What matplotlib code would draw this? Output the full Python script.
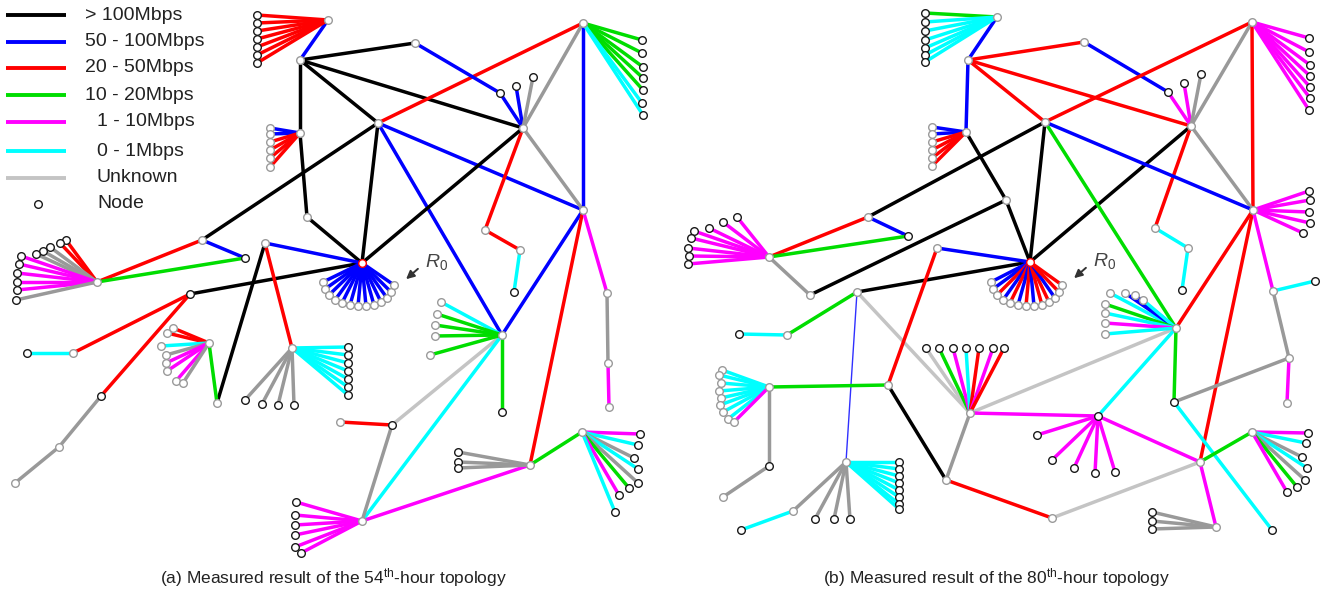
import matplotlib
matplotlib.use("Agg")
import matplotlib.pyplot as plt

plt.rcParams.update({
    "font.family": ["Liberation Sans", "DejaVu Sans"],
    "mathtext.fontset": "custom",
    "mathtext.rm": "Liberation Sans",
    "mathtext.it": "Liberation Sans:italic",
})

# bandwidth classes: key -> legend label
CLASS_KEYS = ["k", "b", "r", "g", "m", "c", "U"]
CLASS_LABELS = ["> 100Mbps", "50 - 100Mbps", "20 - 50Mbps", "10 - 20Mbps",
                "1 - 10Mbps", "0 - 1Mbps", "Unknown"]
CLASS_COLORS = {"k": "#000000", "b": "#0000ff", "r": "#ff0000", "g": "#00dd00",
                "m": "#ff00ff", "c": "#00ffff", "u": "#999999", "U": "#c4c4c4",
                "bt": "#3030ff"}
OUTLINES = {"k": "#1a1a1a", "g": "#9a9a9a", "r": "#ff0000"}

# ---- (a) 54th hour -------------------------------------------------------
NODES_A = {
    "A1": (328, 20, "g"), "A": (300, 60, "g"), "B": (300, 133, "g"),
    "C": (307, 217, "g"), "D": (378, 123, "g"), "P": (415, 43, "g"),
    "H": (523, 128, "g"), "E": (583, 23, "g"), "F": (583, 210, "g"),
    "h1": (500, 93, "k"), "h2": (516, 86, "k"), "h3": (533, 77, "k"),
    "f1": (485, 230, "g"), "f2": (520, 250, "g"), "f3": (514, 292, "k"),
    "R0": (362, 263, "r"), "I": (502, 335, "g"), "i1": (502, 412, "k"),
    "Q": (392, 425, "k"), "q1": (340, 422, "g"), "K": (362, 521, "g"),
    "J": (530, 465, "g"), "L": (582, 432, "g"), "m1": (607, 293, "g"),
    "m2": (608, 363, "g"), "m3": (609, 407, "g"), "G": (202, 240, "g"),
    "g2": (245, 258, "k"), "M": (97, 282, "g"), "N": (190, 294, "k"),
    "n1": (73, 353, "g"), "n0": (27, 353, "k"), "n2": (101, 396, "k"),
    "n3": (59, 447, "g"), "n4": (15, 483, "g"), "O": (265, 243, "g"),
    "o1": (217, 403, "g"), "o2": (209, 343, "g"), "o3": (292, 348, "g"),
}
EDGES_A = [
    ("A1", "A", "b"), ("A", "P", "k"), ("A", "D", "k"), ("A", "H", "k"),
    ("A", "B", "k"), ("B", "C", "k"), ("C", "R0", "k"), ("D", "E", "r"),
    ("D", "F", "b"), ("D", "I", "b"), ("D", "R0", "k"), ("D", "G", "k"),
    ("P", "h1", "b"), ("h1", "H", "b"), ("h2", "H", "b"), ("h3", "H", "u"),
    ("H", "E", "u"), ("H", "F", "u"), ("H", "f1", "r"), ("f1", "f2", "r"),
    ("f2", "f3", "c"), ("H", "R0", "k"), ("E", "F", "b"), ("F", "I", "b"),
    ("F", "J", "r"), ("F", "m1", "m"), ("m1", "m2", "u"), ("m2", "m3", "m"),
    ("I", "i1", "g"), ("I", "Q", "U"), ("I", "K", "c"), ("Q", "q1", "r"),
    ("Q", "K", "u"), ("K", "J", "m"), ("J", "L", "g"), ("G", "g2", "b"),
    ("G", "M", "r"), ("M", "g2", "g"), ("N", "R0", "k"), ("N", "n1", "r"),
    ("n1", "n0", "c"), ("N", "n2", "r"), ("n2", "n3", "u"), ("n3", "n4", "u"),
    ("O", "R0", "b"), ("O", "o1", "k"), ("O", "o3", "r"), ("o1", "o2", "g"),
]
FANS_A = [
    ("A1", "k", [(257, 15, "r"), (257, 23, "r"), (257, 31, "r"), (257, 39, "r"),
                 (257, 47, "r"), (257, 55, "r"), (257, 63, "r")]),
    ("B", "g", [(270, 128, "b"), (270, 134, "b"), (270, 142, "r"), (270, 150, "r"),
                (270, 158, "r"), (270, 167, "r")]),
    ("E", "k", [(642, 40, "g"), (642, 53, "g"), (643, 67, "g"), (643, 78, "g"),
                (643, 90, "g"), (642, 103, "c"), (643, 115, "c")]),
    ("R0", "g", [(323, 282, "b"), (325, 289, "b"), (329, 295, "b"), (335, 300, "b"),
                 (342, 303, "b"), (350, 305, "b"), (358, 306, "b"), (366, 306, "b"),
                 (374, 305, "b"), (381, 302, "b"), (387, 298, "b"), (391, 292, "b"),
                 (394, 285, "b")]),
    ("I", "g", [(441, 302, "c"), (437, 314, "g"), (435, 325, "g"), (435, 336, "g"),
                (430, 355, "g")]),
    ("K", "k", [(296, 502, "m"), (295, 515, "m"), (295, 525, "m"), (295, 535, "m"),
                (295, 547, "m"), (301, 553, "m")]),
    ("J", "k", [(458, 452, "u"), (458, 462, "u"), (458, 468, "u")]),
    ("L", "k", [(640, 434, "m"), (638, 445, "c"), (634, 458, "u"), (638, 469, "c"),
                (638, 483, "u"), (629, 488, "g"), (619, 495, "m"), (615, 512, "c")]),
    ("M", "k", [(66, 240, "r"), (60, 243, "r"), (50, 247, "u"), (43, 251, "u"),
                (36, 254, "u"), (21, 256, "m"), (19, 264, "m"), (17, 273, "m"),
                (17, 282, "m"), (17, 290, "m"), (16, 300, "u")]),
    ("o2", "g", [(173, 328, "r"), (167, 333, "r"), (161, 346, "c"), (166, 355, "u"),
                 (166, 363, "m"), (167, 371, "m"), (176, 381, "m"), (183, 383, "u")]),
    ("o3", "k", [(348, 347, "c"), (348, 355, "c"), (348, 363, "c"), (348, 371, "c"),
                 (348, 379, "c"), (348, 387, "c"), (348, 395, "c")]),
    ("o3", "k", [(245, 400, "u"), (262, 404, "u"), (278, 405, "u"), (294, 405, "u")]),
]

# ---- (b) 80th hour -------------------------------------------------------
NODES_B = {
    "P": (997, 17, "g"), "Q": (968, 60, "g"), "R": (966, 132, "g"),
    "S": (1006, 200, "g"), "R0": (1030, 262, "r"), "q1": (1084, 42, "g"),
    "U": (1191, 126, "g"), "u1": (1168, 92, "k"), "u2": (1184, 83, "k"),
    "u3": (1201, 74, "k"), "V": (1252, 22, "g"), "T": (1045, 122, "g"),
    "W": (1253, 210, "g"), "X": (1176, 328, "g"), "Y": (868, 217, "g"),
    "y1": (908, 236, "k"), "Z": (769, 257, "g"), "z1": (810, 295, "g"),
    "AA": (857, 292, "g"), "aa1": (787, 335, "g"), "aa2": (739, 334, "k"),
    "AB": (937, 248, "g"), "AC": (888, 385, "g"), "ac1": (769, 387, "g"),
    "ac2": (769, 466, "k"), "ac3": (723, 497, "g"), "BL": (846, 462, "g"),
    "bl1": (793, 511, "g"), "bl2": (741, 530, "k"), "AD": (970, 413, "g"),
    "ad1": (946, 480, "g"), "ad2": (1052, 518, "g"), "AE": (1098, 416, "k"),
    "AF": (1200, 462, "g"), "af1": (1216, 527, "g"), "af2": (1252, 432, "g"),
    "AG": (1174, 402, "k"), "ag1": (1289, 358, "g"), "ag2": (1273, 291, "g"),
    "ag3": (1315, 281, "k"), "ag4": (1287, 403, "g"), "ag5": (1272, 530, "k"),
    "u4": (1155, 228, "g"), "u5": (1188, 248, "g"), "u6": (1182, 290, "k"),
}
EDGES_B = [
    ("P", "Q", "b"), ("Q", "R", "b"), ("Q", "q1", "r"), ("Q", "T", "r"),
    ("Q", "U", "r"), ("q1", "u1", "b"), ("u1", "U", "m"), ("u2", "U", "m"),
    ("u3", "U", "u"), ("V", "T", "r"), ("V", "U", "u"), ("V", "W", "r"),
    ("U", "W", "u"), ("U", "R0", "k"), ("U", "u4", "r"), ("u4", "u5", "c"),
    ("u5", "u6", "c"), ("T", "W", "b"), ("T", "X", "g"), ("T", "R0", "k"),
    ("T", "Y", "k"), ("R", "S", "k"), ("S", "R0", "k"), ("z1", "S", "k"),
    ("Y", "y1", "b"), ("Y", "Z", "r"), ("Z", "y1", "g"), ("Z", "z1", "u"),
    ("AA", "R0", "k"), ("AA", "aa1", "g"), ("aa1", "aa2", "c"), ("AA", "AD", "U"),
    ("AA", "BL", "bt"), ("AB", "R0", "b"), ("AB", "AC", "r"), ("AC", "ac1", "g"),
    ("AC", "ad1", "k"), ("ac1", "ac2", "u"), ("ac2", "ac3", "u"), ("BL", "bl1", "u"),
    ("bl1", "bl2", "c"), ("ad1", "AD", "u"), ("ad1", "ad2", "r"), ("AD", "X", "U"),
    ("AD", "AE", "m"), ("AE", "X", "c"), ("AE", "AF", "m"), ("W", "X", "r"),
    ("W", "AF", "r"), ("W", "ag2", "m"), ("X", "AG", "g"), ("AG", "ag1", "u"),
    ("AG", "ag5", "c"), ("ag1", "ag2", "u"), ("ag1", "ag4", "m"), ("ag2", "ag3", "c"),
    ("AF", "af1", "m"), ("AF", "af2", "g"), ("AF", "ad2", "U"),
]
FANS_B = [
    ("P", "k", [(925, 13, "g"), (925, 22, "c"), (925, 31, "c"), (925, 40, "c"),
                (925, 48, "c"), (925, 55, "c"), (925, 62, "c")]),
    ("R", "g", [(932, 127, "b"), (932, 134, "b"), (932, 142, "r"), (932, 150, "r"),
                (932, 158, "r"), (932, 166, "r")]),
    ("V", "k", [(1309, 38, "m"), (1309, 52, "m"), (1310, 65, "m"), (1310, 76, "m"),
                (1310, 87, "m"), (1310, 98, "m"), (1309, 110, "m")]),
    ("W", "k", [(1309, 191, "m"), (1310, 200, "m"), (1309, 212, "m"), (1310, 223, "m"),
                (1303, 233, "m")]),
    ("Z", "k", [(737, 217, "m"), (723, 222, "m"), (709, 228, "m"), (694, 231, "m"),
                (691, 238, "m"), (688, 248, "m"), (689, 256, "m"), (688, 264, "m")]),
    ("ac1", "g", [(722, 370, "c"), (719, 375, "c"), (721, 383, "c"), (719, 391, "c"),
                  (721, 398, "c"), (720, 405, "c"), (723, 412, "c"), (728, 419, "c"),
                  (734, 422, "m")]),
    ("BL", "k", [(899, 462, "c"), (899, 469, "c"), (899, 476, "c"), (899, 483, "c"),
                 (899, 490, "c"), (899, 497, "c"), (899, 504, "c"), (899, 509, "c")]),
    ("BL", "k", [(815, 519, "u"), (834, 519, "u"), (850, 519, "u")]),
    ("AD", "k", [(926, 348, "U"), (939, 348, "g"), (953, 348, "m"), (966, 348, "c"),
                 (979, 348, "r"), (993, 348, "m"), (1004, 348, "r")]),
    ("AE", "k", [(1037, 435, "m"), (1052, 460, "m"), (1074, 468, "m"), (1095, 473, "m"),
                 (1115, 472, "m")]),
    ("X", "g", [(1110, 293, "c"), (1125, 293, "b"), (1135, 295, "b"), (1143, 300, "c"),
                (1105, 304, "g"), (1105, 313, "c"), (1105, 323, "m"), (1105, 334, "c")]),
    ("af1", "k", [(1152, 512, "u"), (1152, 521, "u"), (1152, 529, "u")]),
    ("af2", "k", [(1308, 433, "m"), (1306, 443, "c"), (1302, 457, "u"), (1307, 468, "c"),
                  (1305, 480, "u"), (1297, 487, "g"), (1287, 492, "m")]),
    ("R0", "g", [(991, 282, "b"), (993, 289, "b"), (997, 295, "r"), (1003, 300, "b"),
                 (1010, 303, "r"), (1018, 305, "b"), (1026, 306, "r"), (1034, 306, "b"),
                 (1042, 305, "r"), (1049, 302, "r"), (1055, 298, "b"), (1059, 292, "r"),
                 (1062, 285, "r")]),
]

CAPTIONS = ["(a) Measured result of the 54$^{\\mathrm{th}}$-hour topology",
            "(b) Measured result of the 80$^{\\mathrm{th}}$-hour topology"]


def seg(ax, p, q, cls, z=1):
    lw = 1.0 if cls == "bt" else 2.5
    ax.plot([p[0], q[0]], [p[1], q[1]], color=CLASS_COLORS[cls], lw=lw,
            solid_capstyle="butt", zorder=z)


def node(ax, x, y, outline):
    ax.plot(x, y, "o", ms=5.5, mfc="white", mec=OUTLINES[outline],
            mew=1.0, zorder=4)


def draw_panel(ax, nodes, edges, fans):
    for a, b, cls in edges:
        seg(ax, nodes[a], nodes[b], cls)
    for hub, outline, leaves in fans:
        for x, y, cls in leaves:
            seg(ax, nodes[hub], (x, y), cls, z=2)
        for x, y, cls in leaves:
            node(ax, x, y, outline)
    for x, y, outline in nodes.values():
        node(ax, x, y, outline)
    rx, ry, _ = nodes["R0"]
    ax.text(rx + 75, ry - 1, "$R_0$", fontsize=14, color="#444444",
            ha="center", va="center")
    ax.annotate("", xy=(rx + 42, ry + 18), xytext=(rx + 58, ry + 4),
                arrowprops=dict(arrowstyle="-|>", color="#333333", lw=1.4,
                                mutation_scale=12))


fig = plt.figure(figsize=(13.25, 5.95), dpi=100)
ax = fig.add_axes([0, 0, 1, 1])
ax.set_xlim(0, 1325)
ax.set_ylim(595, 0)
ax.axis("off")

draw_panel(ax, NODES_A, EDGES_A, FANS_A)
draw_panel(ax, NODES_B, EDGES_B, FANS_B)

# legend block in the top-left corner
leg_y = [15, 42, 68, 95, 122, 151, 178]
leg_x = [85, 85, 85, 85, 97, 97, 97]
for yy, xx, key, lab in zip(leg_y, leg_x, CLASS_KEYS, CLASS_LABELS):
    ax.plot([6, 66], [yy, yy], color=CLASS_COLORS[key], lw=2.8,
            solid_capstyle="butt")
    ax.text(xx, yy, lab, fontsize=14, color="#222222", va="center", ha="left")
node(ax, 38, 204, "k")
ax.text(97, 204, "Node", fontsize=14, color="#222222", va="center", ha="left")

ax.text(333, 578, CAPTIONS[0], fontsize=12.5, color="#222222", ha="center", va="center")
ax.text(996, 578, CAPTIONS[1], fontsize=12.5, color="#222222", ha="center", va="center")

fig.savefig("out.png", dpi=100)
